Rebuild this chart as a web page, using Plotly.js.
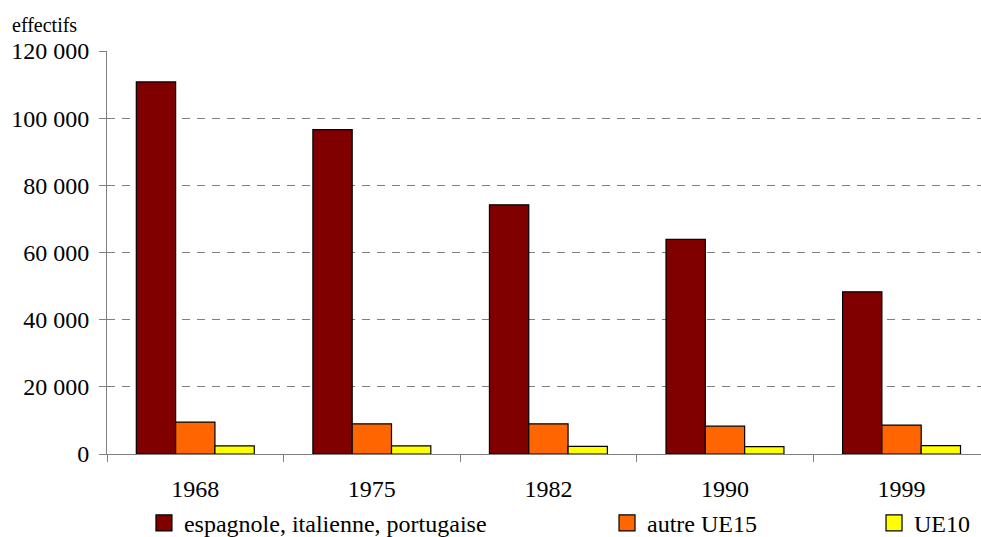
<!DOCTYPE html>
<html>
<head>
<meta charset="utf-8">
<script src="https://cdn.plot.ly/plotly-3.0.1.min.js"></script>
<style>html,body{margin:0;padding:0;background:#fff}#chart{width:981px;height:537px}</style>
</head>
<body>
<div id="chart"></div>
<script>
var years = ['1968', '1975', '1982', '1990', '1999'];
var seriesNames = ['espagnole, italienne, portugaise', 'autre UE15', 'UE10'];
var espItaPor = [110800, 96600, 74200, 63900, 48300];
var autreUE15 = [9500, 9000, 9000, 8300, 8600];
var ue10 = [2400, 2400, 2300, 2200, 2500];
var yTicks = [0, 20000, 40000, 60000, 80000, 100000, 120000];
var colors = ['#800000', '#FF6600', '#FFFF00'];
var allValues = [espItaPor, autreUE15, ue10];
var legendIds = ['legend', 'legend2', 'legend3'];

var FONT = '"Liberation Serif", "Times New Roman", serif';
var traces = [];
allValues.forEach(function (vals, i) {
  traces.push({
    type: 'bar', x: years, y: vals, name: seriesNames[i],
    marker: {color: colors[i], line: {color: '#000', width: 1.2}},
    showlegend: false, hoverinfo: 'x+y+name'
  });
});
allValues.forEach(function (vals, i) {
  traces.push({
    type: 'scatter', mode: 'markers', x: [null], y: [null], name: seriesNames[i],
    marker: {symbol: 'square', size: 16, color: colors[i], line: {color: '#000', width: 1.2}},
    legend: legendIds[i], showlegend: true, hoverinfo: 'skip'
  });
});

function leg(x) {
  return {x: x, xanchor: 'left', y: -0.172, yanchor: 'middle', orientation: 'h',
    font: {family: FONT, size: 24, color: '#000'}, bgcolor: 'rgba(0,0,0,0)', borderwidth: 0};
}

var layout = {
  width: 981, height: 537,
  margin: {l: 107, r: 0, t: 51, b: 83, autoexpand: false},
  paper_bgcolor: '#fff', plot_bgcolor: '#fff',
  separators: ', ',
  barmode: 'group', bargap: 0.332, bargroupgap: 0,
  font: {family: FONT, size: 24, color: '#000'},
  xaxis: {
    type: 'category', range: [-0.5, 4.45], tickson: 'boundaries',
    ticks: 'outside', ticklen: 7, tickcolor: '#808080', tickwidth: 1,
    showline: true, linecolor: '#808080', linewidth: 1,
    showgrid: false, zeroline: false,
    tickfont: {family: FONT, size: 24, color: '#000'},
    ticklabelstandoff: 13, fixedrange: true
  },
  yaxis: {
    range: [0, 120000], tickvals: yTicks, tickformat: ',d',
    ticks: 'outside', ticklen: 7, tickcolor: '#808080', tickwidth: 1,
    showline: true, linecolor: '#808080', linewidth: 1,
    showgrid: true, gridcolor: '#808080', gridwidth: 1, griddash: '8px,7px',
    zeroline: false,
    tickfont: {family: FONT, size: 24, color: '#000'},
    ticklabelstandoff: 5, fixedrange: true
  },
  legend: leg(0.0423), legend2: leg(0.5721), legend3: leg(0.8776),
  annotations: [{
    text: 'effectifs', xref: 'paper', yref: 'paper', x: -0.111, y: 1.064,
    xanchor: 'left', yanchor: 'middle', showarrow: false,
    font: {family: FONT, size: 20, color: '#000'}
  }]
};

Plotly.newPlot('chart', traces, layout, {displayModeBar: false, staticPlot: true});
</script>
</body>
</html>
